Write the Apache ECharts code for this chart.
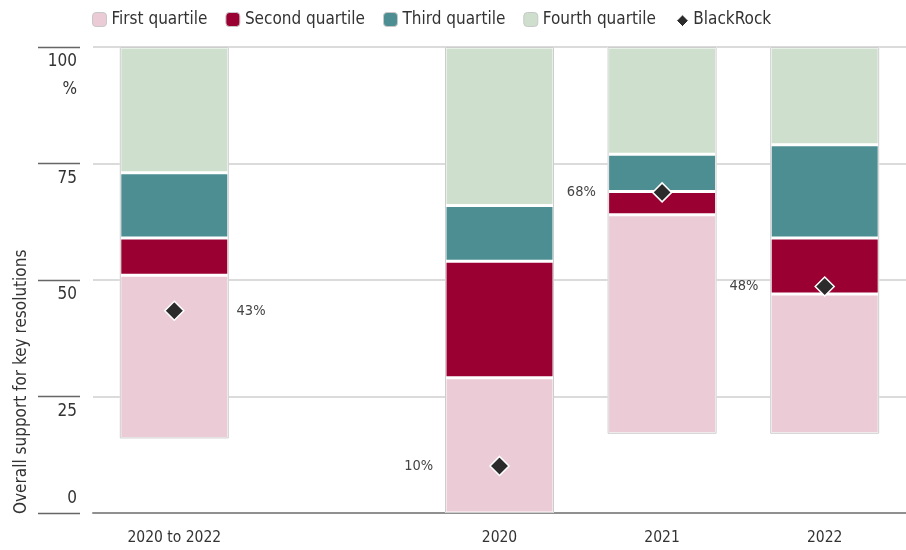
<!DOCTYPE html>
<html>
<head>
<meta charset="utf-8">
<script src="https://cdn.jsdelivr.net/npm/echarts@6/dist/echarts.min.js"></script>
<style>
  html, body { margin: 0; padding: 0; background: #fff; }
  #main { width: 906px; height: 550px; }
</style>
</head>
<body>
<div id="main"></div>
<script>
// 数据：每根柱子各分位的上下边界（%）
var categories = ['2020 to 2022', '', '2020', '2021', '2022'];
var lowEdge    = [16, null, 0, 17, 17];
var firstTop   = [51, null, 29, 64, 47];
var secondTop  = [59, null, 54, 69, 59];
var thirdTop   = [73, null, 66, 77, 79];
var fourthTop  = [100, null, 100, 100, 100];
var blackRock  = [43.4, null, 10.1, 68.8, 48.6];
var yTicks     = [0, 25, 50, 75, 100];

var FONT = '"DejaVu Sans Condensed", "Liberation Sans Narrow", sans-serif';

function diff(a, b) {
    return a.map(function (v, i) { return v == null ? null : v - b[i]; });
}

var myChart = echarts.init(document.getElementById('main'));

var barW = 109;
var option = {
    animation: false,
    textStyle: { fontFamily: FONT },
    legend: {
        left: 92,
        top: 11,
        padding: 0,
        itemWidth: 14,
        itemHeight: 14,
        itemGap: 18,
        textStyle: { fontSize: 17, color: '#333', fontFamily: FONT },
        itemStyle: { borderColor: '#c8c8c8', borderWidth: 1 },
        data: [
            'First quartile', 'Second quartile', 'Third quartile', 'Fourth quartile',
            { name: 'BlackRock', icon: 'path://M0,0L0,0M7,2L12,7L7,12L2,7Z',
              itemStyle: { borderColor: '#fff', borderWidth: 1 } }
        ]
    },
    grid: { left: 93, right: 0, top: 47, bottom: 37 },
    xAxis: [{
        type: 'category',
        data: categories,
        axisLine: { lineStyle: { color: '#555', width: 1.5 } },
        axisTick: { show: false },
        axisLabel: { margin: 17, fontSize: 15.5, color: '#333', fontFamily: FONT }
    }, {
        type: 'category',
        position: 'top',
        data: categories,
        axisLine: { lineStyle: { color: '#999', width: 1.5 } },
        axisTick: { show: false },
        axisLabel: { show: false }
    }],
    yAxis: [{
        type: 'value',
        min: yTicks[0], max: yTicks[yTicks.length - 1], interval: 25,
        position: 'left',
        offset: 13,
        axisLine: { show: false },
        axisTick: { show: true, length: 42, lineStyle: { color: '#666', width: 1.3 } },
        axisLabel: {
            margin: 3, fontSize: 17, color: '#333', fontFamily: FONT,
            verticalAlign: 'top', lineHeight: 28, padding: [1, 0, 0, 0],
            formatter: function (v) {
                if (v === 0) return '';
                return v === 100 ? '100\n%' : String(v);
            }
        },
        splitLine: { lineStyle: { color: '#cfcfcf', width: 1.5 } }
    }, {
        type: 'value',
        min: yTicks[0], max: yTicks[yTicks.length - 1], interval: 25,
        position: 'left',
        offset: 13,
        axisLine: { show: false },
        axisTick: { show: false },
        splitLine: { show: false },
        axisLabel: {
            margin: 3, fontSize: 17, color: '#333', fontFamily: FONT,
            verticalAlign: 'bottom', lineHeight: 28,
            formatter: function (v) { return v === 0 ? '0' : ''; }
        }
    }],
    graphic: [{
        type: 'text',
        x: 22, y: 514,
        rotation: Math.PI / 2,
        style: {
            text: 'Overall support for key resolutions',
            font: '17px ' + FONT,
            fill: '#333',
            align: 'left',
            verticalAlign: 'middle'
        }
    }],
    series: [
        {
            name: 'base', type: 'bar', stack: 'q', barWidth: barW, barGap: '-100%',
            silent: true, itemStyle: { color: 'rgba(0,0,0,0)' }, data: lowEdge
        },
        {
            name: 'First quartile', type: 'bar', stack: 'q', barWidth: barW, barGap: '-100%',
            itemStyle: { color: '#EBCBD6', borderColor: '#fff', borderWidth: 1.5 },
            data: diff(firstTop, lowEdge)
        },
        {
            name: 'Second quartile', type: 'bar', stack: 'q', barWidth: barW, barGap: '-100%',
            itemStyle: { color: '#9B0033', borderColor: '#fff', borderWidth: 1.5 },
            data: diff(secondTop, firstTop)
        },
        {
            name: 'Third quartile', type: 'bar', stack: 'q', barWidth: barW, barGap: '-100%',
            itemStyle: { color: '#4C8E92', borderColor: '#fff', borderWidth: 1.5 },
            data: diff(thirdTop, secondTop)
        },
        {
            name: 'Fourth quartile', type: 'bar', stack: 'q', barWidth: barW, barGap: '-100%',
            itemStyle: { color: '#CEE0CD', borderColor: '#fff', borderWidth: 1.5 },
            data: diff(fourthTop, thirdTop)
        },
        // 外框
        {
            name: 'outlineBase', type: 'bar', stack: 'o', barWidth: barW, barGap: '-100%',
            silent: true, z: 3, itemStyle: { color: 'rgba(0,0,0,0)' }, data: lowEdge
        },
        {
            name: 'outline', type: 'bar', stack: 'o', barWidth: barW, barGap: '-100%',
            silent: true, z: 3,
            itemStyle: { color: 'rgba(0,0,0,0)', borderColor: '#cdcdcd', borderWidth: 1 },
            data: diff(fourthTop, lowEdge)
        },
        {
            name: 'BlackRock', type: 'scatter', z: 5,
            symbol: 'diamond', symbolSize: 19,
            itemStyle: { color: '#2b2b2b', borderColor: '#fff', borderWidth: 1.5, opacity: 1 },
            label: {
                show: true, fontSize: 14.5, color: '#444', fontFamily: FONT,
                formatter: function (p) { return Math.floor(p.value) + '%'; }
            },
            data: blackRock.map(function (v, i) {
                if (v == null) return null;
                return {
                    value: v,
                    label: i === 0 ? { position: 'right', distance: 52 }
                                   : { position: 'left', distance: 56 }
                };
            })
        }
    ]
};
myChart.setOption(option);
</script>
</body>
</html>
